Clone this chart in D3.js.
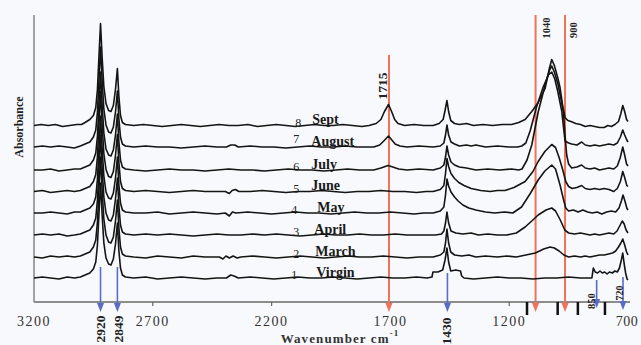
<!DOCTYPE html>
<html>
<head>
<meta charset="utf-8">
<script src="https://cdn.jsdelivr.net/npm/d3@7"></script>
<style>
  body { margin: 0; background: #f8f9fc; }
  #chart svg { display: block; }
  text { font-family: "Liberation Serif", "DejaVu Serif", serif; }
</style>
</head>
<body>
<div id="chart"></div>
<script>
// Samples, from the bottom trace up
const sampleNumbers = ["1", "2", "3", "4", "5", "6", "7", "8"];
const sampleNames = ["Virgin", "March", "April", "May", "June", "July", "August", "Sept"];
const sampleOffsets = [0.24, 0.45, 0.67, 0.89, 1.105, 1.32, 1.55, 1.765];

// Spectra: [wavenumber, absorbance above the trace's own baseline]
const spectrumVirgin = [[3200,0],[3165,0.01],[3130,0],[3095,-0.01],[3060,0.01],[3030,0],[3005,0.01],[2985,0.03],[2965,0.05],[2950,0.09],[2940,0.16],[2933,0.33],[2927,0.62],[2920,0.95],[2913,0.62],[2906,0.35],[2897,0.2],[2886,0.14],[2876,0.13],[2866,0.19],[2857,0.34],[2849,0.55],[2843,0.28],[2836,0.1],[2828,0.03],[2815,0.01],[2780,0],[2730,0.01],[2680,-0.01],[2630,0],[2580,0.01],[2530,0],[2480,-0.01],[2430,0],[2390,0],[2372,0.03],[2358,0.02],[2340,0],[2290,0.01],[2240,0],[2190,-0.01],[2140,0],[2090,0.01],[2040,0],[1990,0],[1940,0.01],[1890,0],[1840,-0.01],[1790,0],[1740,0.01],[1690,0],[1640,0],[1590,0.01],[1545,0],[1525,0.01],[1521,0.06],[1500,0.06],[1480,0.08],[1470,0.18],[1462,0.3],[1455,0.16],[1446,0.07],[1425,0.08],[1405,0.07],[1400,0.02],[1390,0],[1350,-0.01],[1300,0],[1250,0.01],[1200,0],[1150,0],[1100,-0.01],[1050,0],[1000,0],[950,0.01],[900,0],[870,0],[852,0],[846,0.1],[838,0.06],[828,0.05],[818,0.07],[808,0.05],[798,0.06],[788,0.04],[778,0.06],[766,0.05],[755,0.07],[745,0.06],[736,0.1],[728,0.18],[722,0.25],[716,0.14],[710,0.05],[704,-0.01],[700,-0.02]];
const spectrumMarch = [[3200,0],[3165,-0.01],[3130,0.01],[3095,0],[3060,0.01],[3030,0],[3005,0.01],[2985,0.03],[2965,0.05],[2950,0.1],[2940,0.17],[2933,0.35],[2927,0.65],[2920,1.0],[2913,0.66],[2906,0.38],[2897,0.22],[2886,0.15],[2876,0.14],[2866,0.2],[2857,0.36],[2849,0.57],[2843,0.3],[2836,0.1],[2828,0.03],[2815,0.01],[2780,0],[2730,-0.01],[2680,0.01],[2630,0],[2580,-0.01],[2530,0.01],[2480,0],[2420,0],[2405,-0.02],[2392,0.01],[2378,-0.01],[2362,0.01],[2345,-0.01],[2330,0],[2280,0.01],[2230,0],[2180,-0.01],[2130,0],[2080,0.01],[2030,0],[1980,-0.01],[1930,0],[1880,0.01],[1830,0],[1780,0],[1730,0.01],[1680,0],[1630,-0.01],[1580,0],[1520,0],[1490,0.02],[1475,0.05],[1468,0.14],[1462,0.28],[1455,0.14],[1446,0.05],[1430,0.02],[1400,0.01],[1370,0.02],[1340,0],[1300,0.01],[1250,0],[1210,0.01],[1170,0],[1130,0.02],[1090,0.04],[1055,0.08],[1028,0.1],[1010,0.09],[990,0.06],[970,0.02],[950,0],[925,0.01],[900,0],[880,0.01],[860,0],[840,0.01],[820,0.02],[800,0.02],[782,0.03],[765,0.04],[752,0.06],[740,0.1],[730,0.14],[722,0.18],[714,0.12],[706,0.05],[700,0.02]];
const spectrumApril = [[3200,0],[3165,0.01],[3130,0],[3095,0.01],[3060,-0.01],[3030,0],[3005,0.01],[2985,0.03],[2965,0.05],[2950,0.1],[2940,0.17],[2933,0.35],[2927,0.65],[2920,1.0],[2913,0.66],[2906,0.38],[2897,0.22],[2886,0.15],[2876,0.14],[2866,0.2],[2857,0.36],[2849,0.57],[2843,0.3],[2836,0.1],[2828,0.03],[2815,0.01],[2780,0],[2730,0.01],[2680,0],[2630,0.01],[2580,0],[2530,-0.01],[2480,0],[2430,0.01],[2380,0],[2330,0],[2280,0.01],[2230,0],[2180,0.01],[2130,0],[2080,-0.01],[2030,0],[1980,0.01],[1930,0],[1880,0],[1830,0.01],[1780,0],[1730,0],[1680,0.01],[1630,0],[1580,0],[1510,0],[1485,0.01],[1475,0.04],[1468,0.12],[1462,0.23],[1455,0.12],[1445,0.04],[1425,0.02],[1395,0.01],[1360,0.02],[1330,0],[1290,0.01],[1250,0],[1210,0],[1170,0.02],[1133,0.08],[1105,0.14],[1078,0.2],[1045,0.25],[1021,0.27],[1005,0.24],[985,0.15],[966,0.05],[950,0.02],[925,0.01],[900,0.02],[880,0.01],[860,0],[840,0.01],[820,0],[800,0.01],[780,0.02],[760,0.01],[746,0.04],[735,0.09],[724,0.14],[716,0.11],[708,0.05],[700,0.02]];
const spectrumMay = [[3200,0],[3165,0],[3130,0.01],[3095,0],[3060,-0.01],[3030,0.01],[3005,0.01],[2985,0.03],[2965,0.05],[2950,0.09],[2940,0.16],[2933,0.34],[2927,0.63],[2920,0.97],[2913,0.64],[2906,0.37],[2897,0.21],[2886,0.15],[2876,0.14],[2866,0.2],[2857,0.35],[2849,0.56],[2843,0.29],[2836,0.1],[2828,0.03],[2815,0.01],[2780,0],[2730,0],[2680,0.01],[2630,-0.01],[2580,0],[2530,0.01],[2480,0],[2430,-0.01],[2395,0],[2378,-0.03],[2365,0.01],[2350,0],[2300,0.01],[2250,0],[2200,-0.01],[2150,0],[2100,0.01],[2050,0],[2000,0],[1950,-0.01],[1900,0],[1850,0.01],[1800,0],[1750,0],[1700,0.01],[1650,0],[1600,-0.01],[1560,0],[1520,0],[1490,0.02],[1475,0.06],[1468,0.18],[1462,0.34],[1455,0.27],[1445,0.21],[1430,0.16],[1415,0.12],[1395,0.08],[1370,0.05],[1340,0.03],[1300,0.01],[1260,0],[1220,0.01],[1185,0],[1148,0.06],[1110,0.2],[1078,0.33],[1050,0.42],[1021,0.48],[1005,0.44],[986,0.28],[972,0.14],[962,0.05],[950,0.02],[930,0.03],[910,0.01],[890,0.03],[870,0.01],[850,0],[830,0.01],[810,-0.01],[790,0.01],[770,0.02],[752,0.01],[738,0.05],[728,0.12],[721,0.18],[713,0.12],[705,0.05],[700,0.03]];
const spectrumJune = [[3200,0],[3165,0.01],[3130,-0.01],[3095,0],[3060,0.01],[3030,0],[3005,0.01],[2985,0.03],[2965,0.05],[2950,0.1],[2940,0.17],[2933,0.35],[2927,0.65],[2920,1.0],[2913,0.66],[2906,0.38],[2897,0.22],[2886,0.15],[2876,0.14],[2866,0.2],[2857,0.36],[2849,0.57],[2843,0.3],[2836,0.1],[2828,0.03],[2815,0.01],[2780,0],[2730,0.01],[2680,0],[2630,-0.01],[2580,0],[2530,0.01],[2480,0],[2430,0],[2395,0],[2378,-0.02],[2366,0.01],[2352,0.02],[2338,0],[2290,0],[2240,0.01],[2190,0],[2140,-0.01],[2090,0],[2040,0],[1990,0.01],[1940,0],[1890,-0.01],[1840,0],[1790,0],[1740,0.01],[1690,0],[1640,0],[1590,-0.01],[1550,0],[1520,0],[1490,0.02],[1475,0.06],[1468,0.18],[1462,0.33],[1455,0.25],[1445,0.18],[1430,0.13],[1412,0.09],[1390,0.06],[1360,0.03],[1320,0.01],[1280,0],[1250,0.01],[1218,0.01],[1180,0.04],[1133,0.1],[1100,0.2],[1078,0.3],[1050,0.4],[1021,0.47],[1005,0.44],[990,0.34],[975,0.22],[962,0.1],[950,0.05],[935,0.03],[915,0.04],[895,0.06],[880,0.03],[860,0.02],[840,0.03],[820,0.02],[800,0.03],[780,0.02],[760,0],[745,0.03],[732,0.1],[722,0.2],[714,0.14],[705,0.06],[700,0.05]];
const spectrumJuly = [[3200,0],[3165,0],[3130,0.01],[3095,-0.01],[3060,0],[3030,0.01],[3005,0.01],[2985,0.03],[2965,0.05],[2950,0.1],[2940,0.17],[2933,0.34],[2927,0.64],[2920,0.98],[2913,0.65],[2906,0.37],[2897,0.21],[2886,0.15],[2876,0.14],[2866,0.2],[2857,0.35],[2849,0.56],[2843,0.29],[2836,0.1],[2828,0.03],[2815,0.01],[2780,0],[2730,-0.01],[2680,0],[2630,0.01],[2580,0],[2530,0],[2480,-0.01],[2430,0],[2380,0.01],[2330,0],[2280,0],[2230,-0.01],[2180,0],[2130,0.01],[2080,0],[2030,0],[1980,-0.01],[1930,0],[1880,0.01],[1830,0],[1770,0],[1740,0.02],[1710,0.045],[1690,0.03],[1665,0.01],[1630,0],[1580,0.01],[1520,0],[1490,0.02],[1475,0.05],[1468,0.13],[1462,0.24],[1455,0.15],[1445,0.08],[1430,0.05],[1410,0.03],[1380,0.02],[1340,0],[1290,0.01],[1240,0],[1190,0.01],[1160,0],[1146,0.01],[1125,0.1],[1105,0.25],[1078,0.58],[1049,0.85],[1030,1.0],[1021,1.04],[1010,0.98],[995,0.86],[983,0.72],[972,0.58],[965,0.35],[958,0.15],[950,0.06],[937,0.02],[915,0.03],[895,0.05],[880,0.02],[860,0.01],[840,0.02],[820,0],[800,0.01],[780,0.02],[760,0.01],[745,0.04],[733,0.12],[722,0.23],[714,0.15],[706,0.06],[700,0.04]];
const spectrumAugust = [[3200,0],[3165,0.01],[3130,0],[3095,0.01],[3060,0],[3030,-0.01],[3005,0.01],[2985,0.03],[2965,0.05],[2950,0.1],[2940,0.17],[2933,0.35],[2927,0.65],[2920,1.0],[2913,0.66],[2906,0.38],[2897,0.22],[2886,0.15],[2876,0.14],[2866,0.2],[2857,0.35],[2849,0.56],[2843,0.29],[2836,0.1],[2828,0.03],[2815,0.01],[2780,0],[2730,0.01],[2680,0],[2630,0],[2580,-0.01],[2530,0],[2480,0.01],[2430,0],[2390,0],[2372,0.02],[2355,0.02],[2340,0],[2290,0.01],[2240,0],[2190,0],[2140,-0.01],[2090,0],[2040,0.01],[1990,0],[1940,0],[1890,0.01],[1840,0],[1800,0],[1770,0],[1745,0.02],[1728,0.06],[1708,0.11],[1694,0.07],[1680,0.03],[1660,0.01],[1630,0],[1580,0.01],[1520,0],[1490,0.01],[1475,0.04],[1468,0.12],[1462,0.22],[1455,0.12],[1445,0.05],[1430,0.03],[1410,0.01],[1380,0.02],[1360,0.01],[1340,0.02],[1300,0],[1250,0.01],[1200,0],[1165,0],[1147,0.01],[1130,0.04],[1112,0.16],[1085,0.4],[1057,0.6],[1035,0.72],[1021,0.75],[1008,0.68],[995,0.55],[979,0.36],[965,0.06],[950,0.04],[937,0.03],[915,0.02],[895,0.05],[880,0.02],[860,0.01],[840,0.02],[820,0.01],[800,0.02],[780,0.03],[760,0.02],[745,0.04],[732,0.1],[722,0.17],[714,0.12],[705,0.07],[700,0.05]];
const spectrumSept = [[3200,0],[3170,0.01],[3140,0],[3110,0.01],[3080,-0.01],[3050,0],[3020,0.01],[3000,0.01],[2985,0.03],[2965,0.06],[2950,0.1],[2940,0.18],[2933,0.36],[2927,0.67],[2920,1.02],[2913,0.67],[2906,0.39],[2897,0.22],[2886,0.15],[2876,0.14],[2866,0.2],[2857,0.36],[2849,0.57],[2843,0.3],[2836,0.1],[2828,0.03],[2815,0.01],[2780,0],[2740,0.01],[2700,0],[2660,-0.01],[2620,0],[2580,0.01],[2540,0],[2500,-0.01],[2460,0],[2420,0.01],[2380,0],[2340,0],[2300,0.01],[2260,-0.01],[2220,0],[2180,0.01],[2140,0],[2100,-0.01],[2060,0],[2020,0.01],[1980,0],[1940,0],[1900,0.01],[1860,0],[1820,-0.01],[1790,0],[1760,0.02],[1740,0.06],[1725,0.14],[1708,0.21],[1695,0.14],[1682,0.06],[1668,0.02],[1640,0],[1600,0.01],[1560,0],[1520,0],[1495,0.02],[1478,0.06],[1470,0.15],[1462,0.25],[1455,0.14],[1446,0.05],[1430,0.02],[1410,0.01],[1380,0.02],[1350,0],[1310,0.01],[1270,0],[1230,0.01],[1190,0.01],[1160,0.03],[1133,0.06],[1105,0.14],[1078,0.23],[1049,0.37],[1030,0.58],[1021,0.66],[1010,0.6],[996,0.48],[986,0.38],[975,0.2],[965,0.08],[953,0.05],[940,0.04],[920,0.02],[900,0.01],[880,-0.01],[860,0],[840,-0.01],[820,-0.02],[800,-0.02],[785,0],[770,-0.01],[755,0.01],[740,0.04],[730,0.12],[722,0.2],[714,0.14],[706,0.06],[700,0.04]];
const spectra = [spectrumVirgin, spectrumMarch, spectrumApril, spectrumMay, spectrumJune, spectrumJuly, spectrumAugust, spectrumSept];

// Axis and band annotations
const xTicks = [3200, 2700, 2200, 1700, 1200, 700];
const redArrowLabels = ["1715", "1040", "900"];
const redArrowPositions = [1706, 1089, 965];
const blueArrowLabels = ["2920", "2849", "1430", "850", "720"];
const blueArrowPositions = [2920, 2849, 1460, 832, 721];
const markerPositions = [1125, 996, 911, 797];

drawSpectra();

function drawSpectra() {
    let dimensions = {
        width: 641,
        height: 345,
        margin: { top: 15, left: 34, right: 13, bottom: 43 }
    };

    const svg = d3.select('#chart')
        .append('svg')
        .attr('width', dimensions.width)
        .attr('height', dimensions.height)
        .style('background', '#f8f9fc');

    // Scales (wavenumber runs high to low)
    const xScale = d3.scaleLinear()
        .domain([3200, 700])
        .range([dimensions.margin.left, dimensions.width - dimensions.margin.right]);
    const yScale = d3.scaleLinear()
        .domain([0, 2.87])
        .range([dimensions.height - dimensions.margin.bottom, dimensions.margin.top]);
    const axisY = yScale(0);

    const redColor = '#f07258';
    const blueColor = '#5a6bc8';

    drawAxes();
    drawArrows();
    drawTraces();
    drawLabels();

    function drawAxes() {
        svg.append('line')
            .attr('x1', xScale(3200)).attr('x2', xScale(3200))
            .attr('y1', dimensions.margin.top).attr('y2', axisY)
            .attr('stroke', '#8c8c8c').attr('stroke-width', 1.6);
        svg.append('line')
            .attr('x1', xScale(3200)).attr('x2', xScale(700) + 2)
            .attr('y1', axisY).attr('y2', axisY)
            .attr('stroke', '#8c8c8c').attr('stroke-width', 2);

        // small tick marks
        svg.selectAll('.tick-mark')
            .data(xTicks.slice(1, 5))
            .enter()
            .append('line')
            .attr('x1', d => xScale(d)).attr('x2', d => xScale(d))
            .attr('y1', axisY).attr('y2', axisY + 4)
            .attr('stroke', '#666').attr('stroke-width', 1.2);

        svg.selectAll('.tick-label')
            .data(xTicks)
            .enter()
            .append('text')
            .attr('x', d => xScale(d) - (d === 700 ? 1 : 0))
            .attr('y', 326)
            .attr('text-anchor', 'middle')
            .attr('fill', '#333')
            .style('font-size', '14px')
            .style('letter-spacing', d => d === 700 ? '0.5px' : '1.5px')
            .text(d => d);

        // thick black markers under the axis
        svg.selectAll('.marker')
            .data(markerPositions)
            .enter()
            .append('line')
            .attr('x1', d => xScale(d)).attr('x2', d => xScale(d))
            .attr('y1', axisY).attr('y2', axisY + 13)
            .attr('stroke', '#111').attr('stroke-width', 2.5);

        const title = svg.append('text')
            .attr('x', 340)
            .attr('y', 343)
            .attr('text-anchor', 'middle')
            .attr('fill', '#333')
            .style('font-size', '13px')
            .style('font-weight', 'bold')
            .style('letter-spacing', '1.1px');
        title.append('tspan').text('Wavenumber cm');
        title.append('tspan').attr('dy', -7).style('font-size', '9px').text('-1');

        svg.append('text')
            .attr('transform', 'translate(23,127) rotate(-90)')
            .attr('text-anchor', 'middle')
            .attr('fill', '#222')
            .style('font-size', '12px')
            .style('font-weight', 'bold')
            .text('Absorbance');
    }

    function drawArrows() {
        const redTops = [55, 15, 15];
        redArrowPositions.forEach(function(wn, i) {
            drawArrow(xScale(wn), redTops[i], axisY + 10, redColor, 2);
        });
        const blueTops = [267, 267, 273, 280, 277];
        const blueEnds = [312, 312, 312, 308, 310];
        blueArrowPositions.forEach(function(wn, i) {
            drawArrow(xScale(wn), blueTops[i], blueEnds[i], blueColor, 1.6);
        });

        // rotated labels: [x of baseline, y centre, font size]
        const redLabelPlace = [[387, 86, 13.5], [550, 28, 10.5], [577, 30, 10.5]];
        redArrowLabels.forEach(function(label, i) {
            drawRotated(label, redLabelPlace[i]);
        });
        const blueLabelPlace = [[105, 329, 13.5], [123, 329, 13.5], [451, 331, 13.5], [595, 301, 10.5], [623, 293, 10]];
        blueArrowLabels.forEach(function(label, i) {
            drawRotated(label, blueLabelPlace[i]);
        });
    }

    function drawArrow(x, top, bottom, color, width) {
        svg.append('line')
            .attr('x1', x).attr('x2', x)
            .attr('y1', top).attr('y2', bottom - 8)
            .attr('stroke', color).attr('stroke-width', width);
        svg.append('path')
            .attr('d', `M${x - 3.5},${bottom - 9} L${x + 3.5},${bottom - 9} L${x},${bottom} Z`)
            .attr('fill', color);
    }

    function drawRotated(label, place) {
        svg.append('text')
            .attr('transform', `translate(${place[0]},${place[1]}) rotate(-90)`)
            .attr('text-anchor', 'middle')
            .attr('fill', '#222')
            .style('font-size', place[2] + 'px')
            .style('font-weight', 'bold')
            .text(label);
    }

    function drawTraces() {
        const line = d3.line()
            .x(d => xScale(d[0]))
            .y(d => d[1]);

        svg.selectAll('.trace')
            .data(spectra)
            .enter()
            .append('path')
            .attr('class', 'trace')
            .attr('d', function(d, i) {
                return line(d.map(p => [p[0], yScale(sampleOffsets[i] + p[1])]));
            })
            .attr('fill', 'none')
            .attr('stroke', '#141414')
            .attr('stroke-width', 1.6)
            .attr('stroke-linejoin', 'round');
    }

    function drawLabels() {
        const numberShift = [-4, -2, -2, -4, -2, -2, -2, 0];
        const nameIndent = [5, 4, 3, 6, 0, 0, 0, 1];
        sampleNames.forEach(function(name, i) {
            const y = yScale(sampleOffsets[i]);
            svg.append('text')
                .attr('x', xScale(2100) + numberShift[i])
                .attr('y', y + 1 - (i === 6 ? 5 : 0))
                .attr('fill', '#222')
                .style('font-size', '12px')
                .text(sampleNumbers[i]);
            svg.append('text')
                .attr('x', xScale(2033) + nameIndent[i])
                .attr('y', y - 1.5)
                .attr('fill', '#1a1a1a')
                .style('font-size', '14px')
                .style('font-weight', 'bold')
                .text(name);
        });
    }
}
</script>
</body>
</html>
